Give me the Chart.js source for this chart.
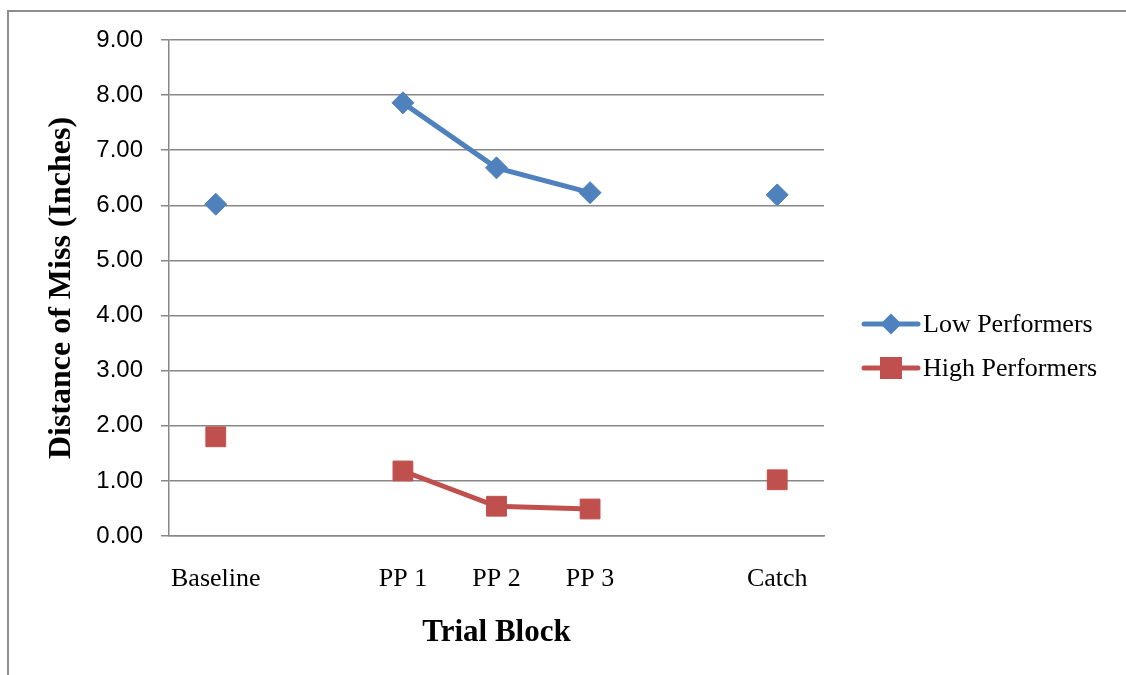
<!DOCTYPE html>
<html>
<head>
<meta charset="utf-8">
<script src="https://cdn.jsdelivr.net/npm/chart.js@4"></script>
<style>
  html, body { margin: 0; padding: 0; background: #fff; overflow: hidden; }
  #wrap { position: relative; width: 1126px; height: 675px; }
  #frame { position: absolute; left: 7px; top: 10px; width: 1300px; height: 800px;
           border-left: 2px solid #8e8e8e; border-top: 2px solid #8e8e8e; }
  canvas { position: absolute; left: 0; top: 0; }
</style>
</head>
<body>
<div id="wrap">
  <div id="frame"></div>
  <canvas id="chartMiss" width="1126" height="675"></canvas>
</div>
<script>
const blocks = ['Baseline', '', 'PP 1', 'PP 2', 'PP 3', '', 'Catch'];
const lowPerformers = [6.02, null, 7.86, 6.68, 6.23, null, 6.19];
const highPerformers = [1.80, null, 1.18, 0.54, 0.49, null, 1.02];
const yTicks = [0, 1, 2, 3, 4, 5, 6, 7, 8, 9];

const gridGrey = '#878787';

// legend drawn by hand: line sample with marker in the middle, like the office chart
const sideLegend = {
    id: 'sideLegend',
    afterDraw(chart) {
        const c = chart.ctx;
        const rows = [
            { ds: chart.data.datasets[0], y: 324, r: 7 },
            { ds: chart.data.datasets[1], y: 368, r: 12 }
        ];
        c.save();
        rows.forEach(row => {
            c.strokeStyle = row.ds.borderColor;
            c.lineWidth = 5;
            c.lineCap = 'round';
            c.beginPath();
            c.moveTo(864, row.y);
            c.lineTo(918, row.y);
            c.stroke();
            Chart.helpers.drawPoint(c, {
                pointStyle: row.ds.pointStyle,
                radius: row.r,
                borderWidth: 1
            }, 891, row.y);
            c.fillStyle = row.ds.backgroundColor;
            c.fill();
            c.fillStyle = '#000';
            c.font = '26px "Liberation Serif"';
            c.textBaseline = 'middle';
            c.textAlign = 'left';
            c.fillText(row.ds.label, 923, row.y + 1);
        });
        c.restore();
    }
};

const ctx = document.getElementById('chartMiss').getContext('2d');
const chartMiss = new Chart(ctx, {
    type: 'line',
    data: {
        labels: blocks,
        datasets: [
            {
                label: 'Low Performers',
                data: lowPerformers,
                borderColor: '#4F81BD',
                backgroundColor: '#4F81BD',
                borderWidth: 5,
                pointStyle: 'rectRot',
                pointRadius: 11,
                pointHoverRadius: 11,
                pointBorderWidth: 1,
                spanGaps: false,
                tension: 0
            },
            {
                label: 'High Performers',
                data: highPerformers,
                borderColor: '#C0504D',
                backgroundColor: '#C0504D',
                borderWidth: 5,
                pointStyle: 'rect',
                pointRadius: 14,
                pointHoverRadius: 14,
                pointBorderWidth: 1,
                spanGaps: false,
                tension: 0
            }
        ]
    },
    options: {
        responsive: false,
        animation: false,
        layout: { padding: { left: 0, top: 40, right: 302, bottom: 0 } },
        plugins: {
            legend: { display: false },
            tooltip: { enabled: false }
        },
        scales: {
            x: {
                type: 'category',
                offset: true,
                grid: { display: false, drawTicks: false },
                border: { display: true, color: gridGrey, width: 1.5 },
                ticks: {
                    color: '#000',
                    font: { family: 'Liberation Serif', size: 26 },
                    padding: 28,
                    maxRotation: 0,
                    autoSkip: false
                },
                title: {
                    display: true,
                    text: 'Trial Block',
                    color: '#000',
                    font: { family: 'Liberation Serif', size: 31, weight: 'bold' },
                    padding: { top: 0, bottom: 23 }
                },
                afterFit(scale) { scale.height = 139; }
            },
            y: {
                min: 0,
                max: 9,
                afterBuildTicks(scale) { scale.ticks = yTicks.map(v => ({ value: v })); },
                grid: { color: gridGrey, lineWidth: 1.5, tickLength: 8 },
                border: { display: true, color: gridGrey, width: 1.5 },
                ticks: {
                    color: '#000',
                    font: { family: 'Liberation Sans', size: 24 },
                    padding: 18,
                    callback: v => Number(v).toFixed(2)
                },
                title: {
                    display: true,
                    text: 'Distance of Miss (Inches)',
                    color: '#000',
                    font: { family: 'Liberation Serif', size: 32, weight: 'bold' },
                    padding: { top: 43, bottom: 0 }
                },
                afterFit(scale) { scale.width = 169; }
            }
        }
    },
    plugins: [sideLegend]
});
</script>
</body>
</html>
